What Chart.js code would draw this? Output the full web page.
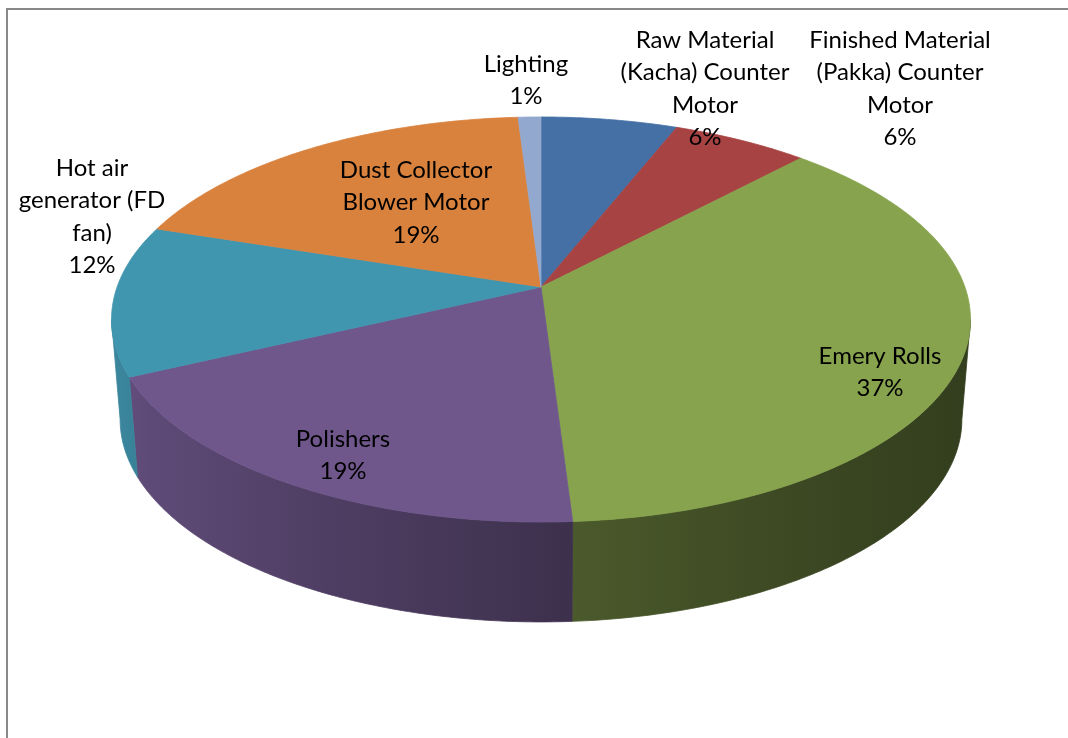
<!DOCTYPE html>
<html>
<head>
<meta charset="utf-8">
<script src="https://cdn.jsdelivr.net/npm/chart.js@4.4.1/dist/chart.umd.min.js"></script>
<style>
  html, body { margin: 0; padding: 0; background: #fff; overflow: hidden; width: 1068px; height: 738px; }
  #frame { position: absolute; left: 6px; top: 8px; width: 1100px; height: 800px;
           border-left: 2px solid #888; border-top: 2px solid #888; }
  #wrap { position: absolute; left: 0; top: 0; width: 1068px; height: 738px; }
</style>
</head>
<body>
<div id="frame"></div>
<div id="wrap"><canvas id="c" width="1068" height="738"></canvas></div>
<script>
// Energy consumption share by equipment
const categories = [
  ['Raw Material', '(Kacha) Counter', 'Motor'],
  ['Finished Material', '(Pakka) Counter', 'Motor'],
  ['Emery Rolls'],
  ['Polishers'],
  ['Hot air', 'generator (FD', 'fan)'],
  ['Dust Collector', 'Blower Motor'],
  ['Lighting']
];
const shares = [6, 6, 37, 19, 12, 19, 1];
const sliceColors = ['#4470A5', '#A84343', '#87A34E', '#6F578C', '#4196AF', '#D9823D', '#93A8CF'];

// Where each data label block is centred (x, y of first line)
const labelAnchors = [[705, 40], [900, 40], [880, 356], [343, 439], [92, 168], [416, 170], [526, 64]];
const labelFont = '24px Lato';
const lineStep = 32.5;

// Tilted-disc view: horizontal / vertical spread relative to the pie radius,
// perspective strength, rim depth and how much the base shrinks.
const view = { sx: 1.477, sy: 0.6875, persp: -0.1605, depth: 0.348, baseShrink: 0.98 };
// Wall shading across the pie width: [position 0..1, brightness factor]
const wallShade = [[0, 0.90], [0.044, 0.85], [0.25, 0.71], [0.518, 0.56], [0.75, 0.46], [1, 0.38]];

function project(arc, phi, bottom) {
  const u = Math.cos(phi), v = Math.sin(phi);
  const r = arc.outerRadius;
  const k = 1 / (1 + view.persp * v);
  let dx = r * view.sx * u * k;
  let dy = r * view.sy * v * k;
  if (bottom) { dx *= view.baseShrink; dy += r * view.depth; }
  return [arc.x + dx, arc.y + dy];
}

function shade(hex, f) {
  const n = parseInt(hex.slice(1), 16);
  const r = Math.round(((n >> 16) & 255) * f);
  const g = Math.round(((n >> 8) & 255) * f);
  const b = Math.round((n & 255) * f);
  return `rgb(${r},${g},${b})`;
}

const pie3d = {
  id: 'pie3d',
  beforeDatasetsDraw(chart) {
    const ctx = chart.ctx;
    const arcs = chart.getDatasetMeta(0).data;
    const phiR = Math.asin(-view.persp);
    const phiL = Math.PI - phiR;
    ctx.save();
    // side walls (front half only)
    arcs.forEach(arc => {
      const s = Math.max(arc.startAngle, phiR);
      const e = Math.min(arc.endAngle, phiL);
      if (e <= s) return;
      const base = arc.options.backgroundColor;
      const half = arc.outerRadius * view.sx / Math.sqrt(1 - view.persp * view.persp);
      const grad = ctx.createLinearGradient(arc.x - half, 0, arc.x + half, 0);
      wallShade.forEach(([t, f]) => grad.addColorStop(t, shade(base, f)));
      const n = Math.max(8, Math.ceil((e - s) * 80));
      ctx.beginPath();
      for (let i = 0; i <= n; i++) {
        const p = project(arc, s + (e - s) * i / n, false);
        i ? ctx.lineTo(p[0], p[1]) : ctx.moveTo(p[0], p[1]);
      }
      for (let i = n; i >= 0; i--) {
        const p = project(arc, s + (e - s) * i / n, true);
        ctx.lineTo(p[0], p[1]);
      }
      ctx.closePath();
      ctx.fillStyle = grad;
      ctx.fill();
      ctx.strokeStyle = grad;
      ctx.lineWidth = 0.8;
      ctx.stroke();
    });
    // top faces
    arcs.forEach(arc => {
      const s = arc.startAngle, e = arc.endAngle;
      const n = Math.max(4, Math.ceil((e - s) * 80));
      ctx.beginPath();
      ctx.moveTo(arc.x, arc.y);
      for (let i = 0; i <= n; i++) {
        const p = project(arc, s + (e - s) * i / n, false);
        ctx.lineTo(p[0], p[1]);
      }
      ctx.closePath();
      ctx.fillStyle = arc.options.backgroundColor;
      ctx.fill();
      ctx.strokeStyle = arc.options.backgroundColor;
      ctx.lineWidth = 0.8;
      ctx.lineJoin = 'round';
      ctx.stroke();
    });
    ctx.restore();
    return false;
  },
  afterDraw(chart) {
    const ctx = chart.ctx;
    const values = chart.data.datasets[0].data;
    const total = values.reduce((a, b) => a + b, 0);
    ctx.save();
    ctx.font = labelFont;
    ctx.fillStyle = '#000';
    ctx.textAlign = 'center';
    ctx.textBaseline = 'middle';
    chart.data.labels.forEach((lab, i) => {
      const lines = lab.concat([Math.round(values[i] / total * 100) + '%']);
      const [x, y] = labelAnchors[i];
      lines.forEach((t, j) => ctx.fillText(t, x, y + j * lineStep));
    });
    ctx.restore();
  }
};

new Chart(document.getElementById('c'), {
  type: 'pie',
  data: {
    labels: categories,
    datasets: [{ data: shares, backgroundColor: sliceColors, borderWidth: 0, hoverOffset: 0 }]
  },
  options: {
    responsive: false,
    animation: false,
    events: [],
    layout: { padding: { left: 14, right: 0, top: 0, bottom: 164 } },
    plugins: { legend: { display: false }, tooltip: { enabled: false } }
  },
  plugins: [pie3d]
});
</script>
</body>
</html>
